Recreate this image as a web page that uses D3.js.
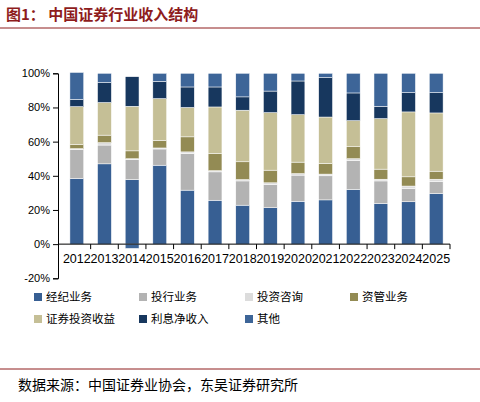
<!DOCTYPE html>
<html><head><meta charset="utf-8">
<script src="https://cdn.jsdelivr.net/npm/d3@7"></script>
<style>body{margin:0;background:#fff;font-family:"Noto Sans CJK SC",sans-serif}</style>
</head><body><svg id="chart" width="480" height="402"></svg>
<script>
var years = ["2012","2013","2014","2015","2016","2017","2018","2019","2020","2021","2022","2023","2024","2025"];
var seriesNames = ["经纪业务","投行业务","投资咨询","资管业务","证券投资收益","利息净收入","其他"];
var colors = ["#375F93","#B3B3B3","#DCDCDC","#938B54","#C5BF96","#17375E","#3D6598"];
var brokerage = [38.4,47,37.8,46.2,31.6,25.7,22.8,21.3,25.1,25.9,32,23.8,24.8,29.6];
var ib =        [17,11,11.7,9.5,21.4,16.6,14.2,13.7,15.3,14.1,17,13.2,7.8,7.2];
var advisory =  [0.5,1.4,0.5,0.6,1,0.7,0.8,0.9,0.9,1,1,1,1.4,1.2];
var assetMgmt = [2.3,4.4,4.6,4.5,8.8,10,10.4,7.4,6.7,6.2,7,5.9,5.4,4.7];
var propInv =   [22.3,19.1,26.1,24.4,17.2,27.3,30.2,33.7,27.8,27.2,15.3,29.6,38,34.1];
var interest =  [4.2,11.7,17.3,10.1,12,11.7,7.8,12.6,19.7,23.1,16.2,7.2,11.3,11.9];
var other =     [15.8,5.4,-2.5,4.7,8,8,13.8,10.4,4.5,2.5,11.5,19.3,11.3,11.3];
var yTicks = [-20,0,20,40,60,80,100];

var cols = [brokerage,ib,advisory,assetMgmt,propInv,interest,other];
var svg = d3.select("#chart");

// title + rules
svg.append("text").attr("x",6).attr("y",20).attr("font-size",15).attr("font-weight","bold")
  .attr("fill","#8E1C1C").text("图1：  中国证券行业收入结构");
svg.append("line").attr("x1",0).attr("x2",480).attr("y1",28).attr("y2",28).attr("stroke","#8E1C1C").attr("stroke-width",1);
svg.append("line").attr("x1",0).attr("x2",480).attr("y1",369).attr("y2",369).attr("stroke","#8E1C1C").attr("stroke-width",1);
svg.append("text").attr("x",18).attr("y",390).attr("font-size",14).attr("fill","#000")
  .text("数据来源：中国证券业协会，东吴证券研究所");

var x = d3.scaleBand().domain(years).range([63,450]).paddingInner(0.5).paddingOuter(0.25);
var y = d3.scaleLinear().domain([-20,100]).range([278.3,73.3]);

// y axis
var ya = svg.append("g").attr("transform","translate(58,0)")
  .call(d3.axisLeft(y).tickValues(yTicks).tickFormat(d => d + "%").tickSize(5));
ya.selectAll("text").attr("font-size",11).attr("font-family","Liberation Sans, Arial").attr("fill","#000");
ya.selectAll("line,path").attr("stroke","#000");

// stacked bars
years.forEach(function (yr, i) {
  var pos = 0;
  cols.forEach(function (arr, k) {
    var v = arr[i], y0, y1;
    if (v >= 0) { y0 = pos; y1 = pos + v; pos = y1; } else { y0 = v; y1 = 0; }
    svg.append("rect").attr("x", x(yr)).attr("width", x.bandwidth())
      .attr("y", y(y1)).attr("height", y(y0) - y(y1))
      .attr("fill", colors[k]).attr("stroke","#fff").attr("stroke-width",0.5);
  });
});

// x axis at 0
var xa = svg.append("g").attr("transform","translate(0," + y(0) + ")")
  .call(d3.axisBottom(x).tickSize(5).tickSizeOuter(0));
xa.select(".domain").attr("d","M58,0H450");
xa.selectAll("line,path").attr("stroke","#000");
xa.selectAll(".tick line").attr("transform","translate(" + (x.step()/2) + ",0)");
xa.selectAll("text").attr("font-size",12.5).attr("font-family","Liberation Sans, Arial").attr("fill","#000").attr("dy","0.9em");

// legend
var lg = [[34,298],[139,298],[245,298],[350,298],[34,320],[139,320],[245,320]];
seriesNames.forEach(function (n, k) {
  var g = svg.append("g").attr("transform","translate(" + lg[k][0] + "," + lg[k][1] + ")");
  g.append("rect").attr("x",0).attr("y",-5).attr("width",8).attr("height",8).attr("fill",colors[k]);
  g.append("text").attr("x",12).attr("y",3).attr("font-size",11.5).attr("fill","#000").text(n);
});
</script></body></html>
